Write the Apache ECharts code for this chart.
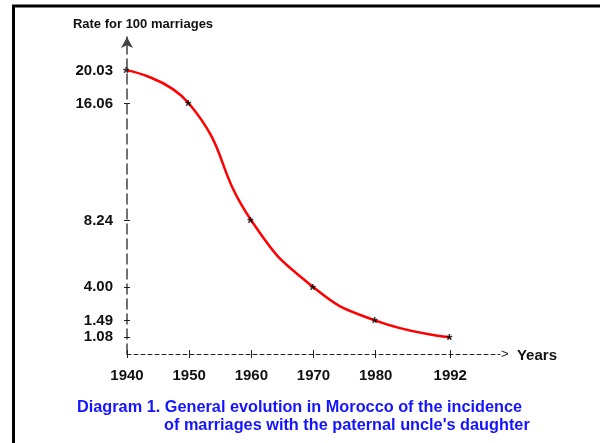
<!DOCTYPE html>
<html>
<head>
<meta charset="utf-8">
<script src="https://cdn.jsdelivr.net/npm/echarts@6/dist/echarts.min.js"></script>
<style>
  html, body { margin: 0; padding: 0; background: #fff; }
  #chart { width: 600px; height: 443px; }
</style>
</head>
<body>
<div id="chart"></div>
<script>
// 数据
const years = [1940, 1950, 1960, 1970, 1980, 1992]
const rates = ['20.03', '16.06', '8.24', '4.00', '1.49', '1.08']
// y轴刻度（原图刻度不是等比例的，用空白类目占位）
const yTickLabels = ['', '1.08', '1.49', '', '4.00', '', '', '', '8.24', '', '', '', '', '', '', '16.06', '', '20.03', '', '']
const xTickValues = [1940, 1950, 1960, 1970, 1980, 1992]

const captionLine1 = 'Diagram 1. General evolution in Morocco of the incidence'
const captionLine2 = "of marriages with the paternal uncle's daughter"

const font = 'Arial, "Liberation Sans", sans-serif'
const points = years.map((y, i) => [y, rates[i]])

// 只在有文字的刻度画 "+"，20.03 处是星号
function showTick(index, value) {
  return value !== '' && value !== '20.03'
}

const chart = echarts.init(document.getElementById('chart'))

const captionStyle = { color: '#1414ff', fontSize: 16.3, fontWeight: 'bold', fontFamily: font }

const option = {
  animation: false,
  backgroundColor: '#fff',
  title: [
    { text: captionLine1, left: 77, top: 400, padding: 0, textStyle: captionStyle },
    { text: captionLine2, left: 164, top: 418, padding: 0, textStyle: captionStyle }
  ],
  graphic: [
    {
      type: 'rect',
      shape: { x: 13.5, y: 6, width: 800, height: 800 },
      style: { fill: 'none', stroke: '#000', lineWidth: 3 },
      silent: true
    }
  ],
  grid: { left: 127, width: 373, top: 37, bottom: 89 },
  xAxis: [
    {
      type: 'value',
      min: 1940,
      max: 2000,
      position: 'bottom',
      splitLine: { show: false },
      axisLine: {
        show: true,
        lineStyle: { color: '#222', width: 1, type: [4, 3] }
      },
      axisTick: {
        show: true,
        customValues: xTickValues,
        length: 4,
        lineStyle: { color: '#222', width: 1 }
      },
      axisLabel: {
        customValues: xTickValues,
        formatter: (v) => String(v),
        margin: 14,
        color: '#111',
        fontSize: 15,
        fontWeight: 'bold',
        fontFamily: font
      },
      name: '{a|>}{b|  Years}',
      nameLocation: 'end',
      nameGap: 1,
      nameTextStyle: {
        rich: {
          a: { fontSize: 13, color: '#222', fontFamily: font },
          b: { fontSize: 15, fontWeight: 'bold', color: '#111', fontFamily: font, padding: [4, 0, 0, 0] }
        }
      }
    },
    {
      // 第二条x轴只画向内的刻度，和主轴拼成 "+"
      type: 'value',
      min: 1940,
      max: 2000,
      position: 'bottom',
      splitLine: { show: false },
      axisLine: { show: false },
      axisTick: {
        show: true,
        inside: true,
        customValues: xTickValues,
        length: 4,
        lineStyle: { color: '#222', width: 1 }
      },
      axisLabel: { show: false }
    }
  ],
  yAxis: [
    {
      type: 'category',
      data: yTickLabels,
      boundaryGap: false,
      position: 'left',
      axisLine: {
        show: true,
        symbol: ['none', 'arrow'],
        symbolSize: [9, 11],
        lineStyle: { color: '#444', width: 1.5, type: [10, 5] }
      },
      axisTick: {
        show: true,
        interval: showTick,
        length: 3,
        lineStyle: { color: '#222', width: 1 }
      },
      axisLabel: {
        interval: (index, value) => value !== '',
        margin: 14,
        color: '#111',
        fontSize: 15,
        fontWeight: 'bold',
        fontFamily: font
      },
      name: 'Rate for 100 marriages',
      nameLocation: 'end',
      nameGap: 6,
      nameTextStyle: {
        color: '#111',
        fontSize: 13,
        fontWeight: 'bold',
        fontFamily: font,
        padding: [0, 0, 0, 32]
      }
    },
    {
      type: 'category',
      data: yTickLabels,
      boundaryGap: false,
      position: 'left',
      axisLine: { show: false },
      axisTick: {
        show: true,
        inside: true,
        interval: showTick,
        length: 3,
        lineStyle: { color: '#222', width: 1 }
      },
      axisLabel: { show: false }
    }
  ],
  series: [
    {
      type: 'line',
      data: points,
      smooth: 0.5,
      symbol: 'none',
      lineStyle: { color: '#ff0000', width: 2.5 },
      z: 2
    },
    {
      // 星号数据点
      type: 'scatter',
      data: points,
      symbolSize: 0,
      label: {
        show: true,
        position: 'inside',
        formatter: '*',
        offset: [-1, 4],
        color: '#000',
        fontSize: 16,
        fontWeight: 'bold',
        fontFamily: font
      },
      z: 3
    }
  ]
}

chart.setOption(option)
</script>
</body>
</html>
